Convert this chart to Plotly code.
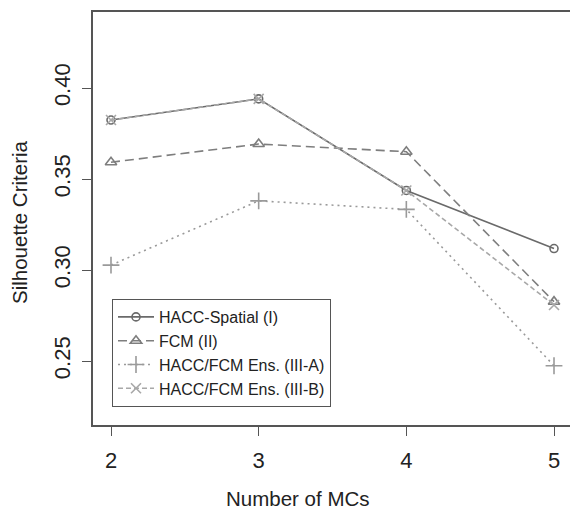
import plotly.graph_objects as go

# Number of MCs on the x axis
n_mcs = [2, 3, 4, 5]

# Silhouette criteria per method
hacc_spatial = [0.3824, 0.3940, 0.3437, 0.3118]
fcm = [0.3592, 0.3692, 0.3650, 0.2826]
ens_a = [0.3027, 0.3380, 0.3333, 0.2474]
ens_b = [0.3824, 0.3940, 0.3437, 0.2808]

names = ["HACC-Spatial (I)", "FCM (II)", "HACC/FCM Ens. (III-A)", "HACC/FCM Ens. (III-B)"]
series = [hacc_spatial, fcm, ens_a, ens_b]
colors = ["#6a6a6a", "#7e7e7e", "#9a9a9a", "#a8a8a8"]
dashes = ["solid", "9px,5px", "2px,4px", "5px,3px"]
symbols = ["circle-open", "triangle-up-open", "cross-thin-open", "x-thin-open"]
sizes = [8, 10, 12, 10]

FONT = "Liberation Sans, Arial, Helvetica, sans-serif"

fig = go.Figure()
for name, ys, c, d, s, sz in zip(names, series, colors, dashes, symbols, sizes):
    fig.add_trace(go.Scatter(
        x=n_mcs, y=ys, name=name, mode="lines+markers",
        line=dict(color=c, width=1.6, dash=d),
        marker=dict(symbol=s, size=sz, color=c, line=dict(color=c, width=1.6)),
    ))

fig.update_layout(
    width=570, height=511,
    margin=dict(l=93, r=0, t=12, b=86),
    paper_bgcolor="white", plot_bgcolor="white",
    font=dict(family=FONT, color="#222"),
    showlegend=True,
    legend=dict(
        x=(112 - 93) / 477, y=(425 - 299) / 413, xanchor="left", yanchor="top",
        bordercolor="#555", borderwidth=1, bgcolor="white",
        font=dict(size=16, color="#222", family=FONT),
        tracegroupgap=0, itemwidth=36,
    ),
    xaxis=dict(
        range=[1.8781, 5.1083], tickvals=n_mcs, ticktext=[str(v) for v in n_mcs],
        showgrid=False, zeroline=False,
        showline=True, linecolor="#555", linewidth=1.5, mirror=True,
        ticks="outside", ticklen=9, tickwidth=1.2, tickcolor="#555",
        tickfont=dict(size=22, color="#222"), ticklabelstandoff=6,
    ),
    yaxis=dict(
        range=[0.21484, 0.44176], tickvals=[0.25, 0.30, 0.35, 0.40],
        tickformat=".2f", tickangle=-90,
        showgrid=False, zeroline=False,
        showline=True, linecolor="#555", linewidth=1.5,
        ticks="outside", ticklen=9, tickwidth=1.2, tickcolor="#555",
        tickfont=dict(size=22, color="#222"), ticklabelstandoff=3,
    ),
    annotations=[
        dict(text="Number of MCs", xref="paper", yref="paper",
             x=(298 - 93) / 477, y=-(498 - 425) / 413,
             xanchor="center", yanchor="middle", showarrow=False,
             font=dict(size=20.5, color="#222", family=FONT)),
        dict(text="Silhouette Criteria", xref="paper", yref="paper",
             x=-(93 - 19) / 477, y=(425 - 222) / 413, textangle=-90,
             xanchor="center", yanchor="middle", showarrow=False,
             font=dict(size=20.5, color="#222", family=FONT)),
    ],
)

fig.write_html("out.html")
